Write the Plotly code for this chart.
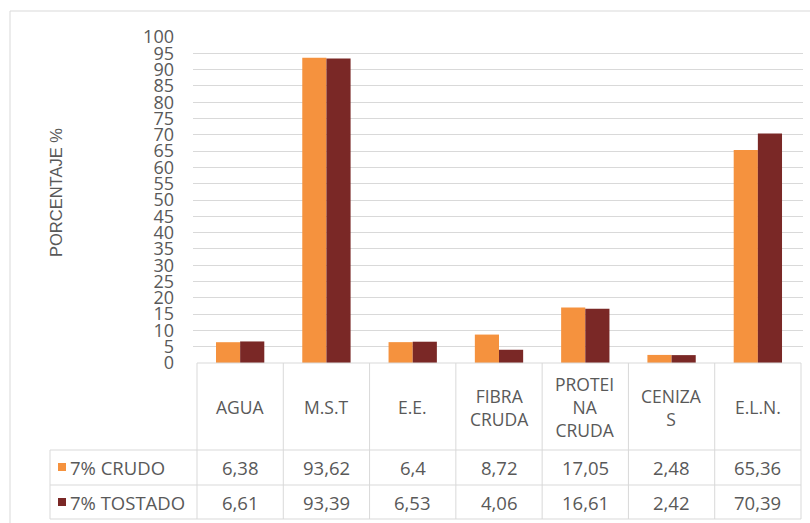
import plotly.graph_objects as go

# Composition of the two samples (percent)
categories = ["AGUA", "M.S.T", "E.E.", "FIBRA<br>CRUDA", "PROTEI<br>NA<br>CRUDA", "CENIZA<br>S", "E.L.N."]
crudo = [6.38, 93.62, 6.4, 8.72, 17.05, 2.48, 65.36]
tostado = [6.61, 93.39, 6.53, 4.06, 16.61, 2.42, 70.39]
series_names = ["7% CRUDO", "7% TOSTADO"]
y_ticks = list(range(0, 101, 5))

W, H = 810, 523
ORANGE = "#F5923E"
MAROON = "#7A2826"
TEXT = "#595959"
LINE = "#D9D9D9"
FONT = "Open Sans"

# pixel helpers for paper coordinates
def px(x):
    return x / W

def py(y):
    return 1 - y / H

n = len(categories)
col_left, col_right = 197, 801
col_w = (col_right - col_left) / n
grid_left, grid_right = 193, 803
x_range = [-0.5 - (col_left - grid_left) / col_w, n - 0.5 + (grid_right - col_right) / col_w]

xs = list(range(n))

fig = go.Figure()
fig.add_trace(go.Bar(x=xs, y=crudo, name=series_names[0], marker=dict(color=ORANGE, line=dict(width=0))))
fig.add_trace(go.Bar(x=xs, y=tostado, name=series_names[1], marker=dict(color=MAROON, line=dict(width=0))))

fig.update_layout(
    template="none",
    width=W, height=H,
    margin=dict(l=0, r=0, t=0, b=0, pad=0, autoexpand=False),
    paper_bgcolor="white", plot_bgcolor="white",
    barmode="group", bargap=0.44, bargroupgap=0,
    showlegend=False,
    font=dict(family=FONT, color=TEXT, size=16),
    xaxis=dict(
        domain=[px(grid_left), px(grid_right)],
        range=x_range, showticklabels=False, showgrid=False,
        zeroline=False, showline=False, ticks="", automargin=False,
    ),
    yaxis=dict(
        domain=[py(363), py(37)],
        range=[0, 100], tickvals=y_ticks,
        showgrid=True, gridcolor=LINE, gridwidth=1,
        zeroline=False, showline=False, ticks="", automargin=False,
        ticklabelstandoff=18,
        tickfont=dict(family=FONT, size=18, color=TEXT),
    ),
)

shapes = []

def hline(x0, x1, y):
    shapes.append(dict(type="line", xref="paper", yref="paper",
                       x0=px(x0), x1=px(x1), y0=py(y), y1=py(y),
                       line=dict(color=LINE, width=1)))

def vline(x, y0, y1):
    shapes.append(dict(type="line", xref="paper", yref="paper",
                       x0=px(x), x1=px(x), y0=py(y0), y1=py(y1),
                       line=dict(color=LINE, width=1)))

# chart frame
hline(10, 812, 11)
vline(10, 11, 525)

# data table grid
hline(col_left, col_right, 363)
hline(50, col_right, 450)
hline(50, col_right, 485)
hline(50, col_right, 519)
vline(50, 450, 519)
for i in range(n + 1):
    xpix = col_left + i * col_w
    vline(xpix, 363, 519)

# legend keys in the table
row_centers = [467, 502]
for color, yc in zip([ORANGE, MAROON], row_centers):
    shapes.append(dict(type="rect", xref="paper", yref="paper",
                       x0=px(58), x1=px(66), y0=py(yc + 4), y1=py(yc - 4),
                       fillcolor=color, line=dict(width=0)))

annotations = []
# category header row
for i, cat in enumerate(categories):
    annotations.append(dict(x=i, y=py(407), xref="x", yref="paper", text=cat,
                            showarrow=False, xanchor="center", yanchor="middle",
                            font=dict(family=FONT, size=17.5, color=TEXT)))

# value rows
for name, vals, yc in zip(series_names, [crudo, tostado], row_centers):
    annotations.append(dict(x=px(68), y=py(yc), xref="paper", yref="paper", text=name,
                            showarrow=False, xanchor="left", yanchor="middle",
                            font=dict(family=FONT, size=18.5, color=TEXT)))
    for i, v in enumerate(vals):
        annotations.append(dict(x=i, y=py(yc), xref="x", yref="paper",
                                text=str(v).replace(".", ","),
                                showarrow=False, xanchor="center", yanchor="middle",
                                font=dict(family=FONT, size=18.5, color=TEXT)))

# axis title
annotations.append(dict(x=px(56), y=py(192), xref="paper", yref="paper",
                        text="PORCENTAJE %", textangle=-90, showarrow=False,
                        xanchor="center", yanchor="middle",
                        font=dict(family="Liberation Sans", size=16.5, color=TEXT)))

fig.update_layout(shapes=shapes, annotations=annotations)
fig.write_html("out.html")
